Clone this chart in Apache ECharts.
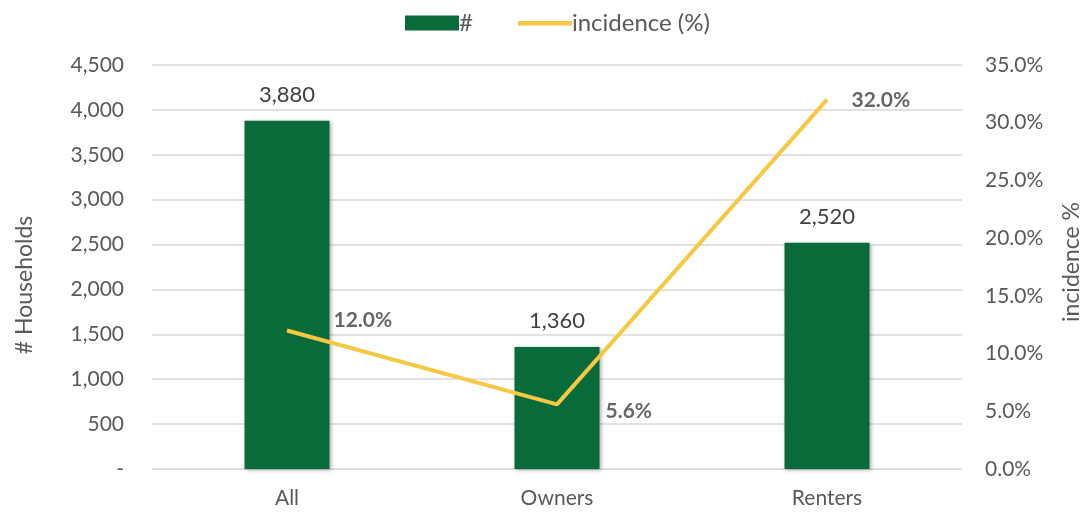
<!DOCTYPE html>
<html>
<head>
<meta charset="utf-8">
<script src="https://cdn.jsdelivr.net/npm/echarts@6/dist/echarts.min.js"></script>
<style>
  html, body { margin: 0; padding: 0; background: #fff; }
  #chart { width: 1082px; height: 514px; }
</style>
</head>
<body>
<div id="chart"></div>
<script>
var categories = ['All', 'Owners', 'Renters'];
var households = [3880, 1360, 2520];
var incidence = [12.0, 5.6, 32.0];
var leftTicks = { min: 0, max: 4500, interval: 500 };
var rightTicks = { min: 0, max: 35, interval: 5 };

var chart = echarts.init(document.getElementById('chart'));
var font = 'Lato, "Open Sans", sans-serif';

// the % labels sit at different spots in the original, so offset each one
var lineLabelOffsets = [[46, -10], [48, 7], [24, 1]];

// thin bar for the line legend (extra moveTo points keep the box 15 high)
var lineIcon = 'path://M0,0 M0,15 M0,5.5 L55,5.5 L55,10 L0,10 Z';

var option = {
    animation: false,
    textStyle: { fontFamily: font },
    legend: {
        top: 6,
        left: 400,
        itemGap: 45,
        itemWidth: 54,
        itemHeight: 15,
        textStyle: { fontSize: 24, color: '#595959', fontFamily: font, padding: [0, 0, 0, -5] },
        data: [
            { name: '#', icon: 'rect' },
            { name: 'incidence (%)', icon: lineIcon, itemStyle: { color: '#f6c843' } }
        ]
    },
    grid: { left: 152, right: 120, top: 65, bottom: 45, outerBoundsMode: 'none' },
    xAxis: {
        type: 'category',
        data: categories,
        axisLine: { lineStyle: { color: '#d9d9d9', width: 1 } },
        axisTick: { show: false },
        axisLabel: { fontSize: 21, color: '#595959', margin: 19 }
    },
    yAxis: [{
        type: 'value',
        min: leftTicks.min,
        max: leftTicks.max,
        interval: leftTicks.interval,
        name: '# Households',
        nameLocation: 'middle',
        nameGap: 116,
        nameTextStyle: { fontSize: 23, color: '#595959', padding: [0, 0, 0, -36] },
        axisLine: { show: false },
        axisTick: { show: false },
        splitLine: { lineStyle: { color: '#d9d9d9', width: 1.5 } },
        axisLabel: {
            fontSize: 21, color: '#595959', margin: 28,
            formatter: function (v) { return v === 0 ? '-' : v.toLocaleString('en-US'); }
        }
    }, {
        type: 'value',
        min: rightTicks.min,
        max: rightTicks.max,
        interval: rightTicks.interval,
        name: 'incidence %',
        nameLocation: 'middle',
        nameGap: 98,
        nameTextStyle: { fontSize: 23, color: '#595959', padding: [0, 0, 0, 10] },
        axisLine: { show: false },
        axisTick: { show: false },
        splitLine: { show: false },
        axisLabel: {
            fontSize: 21, color: '#595959', margin: 23,
            formatter: function (v) { return v.toFixed(1) + '%'; }
        }
    }],
    series: [{
        name: '#',
        type: 'bar',
        yAxisIndex: 0,
        data: households,
        barWidth: 85,
        itemStyle: {
            color: '#0a6b3a',
            shadowBlur: 4,
            shadowColor: 'rgba(0,0,0,0.35)',
            shadowOffsetX: 1,
            shadowOffsetY: 1
        },
        label: {
            show: true,
            position: 'top',
            distance: 15,
            fontSize: 22,
            color: '#404040',
            formatter: function (p) { return p.value.toLocaleString('en-US'); }
        }
    }, {
        name: 'incidence (%)',
        type: 'line',
        yAxisIndex: 1,
        data: incidence,
        symbol: 'none',
        lineStyle: { color: '#f6c843', width: 4 },
        itemStyle: { color: '#f6c843' },
        z: 5
    }, {
        // invisible points only to carry the bold % labels
        name: 'incidence labels',
        type: 'scatter',
        yAxisIndex: 1,
        data: incidence.map(function (v, i) {
            return { value: v, label: { offset: lineLabelOffsets[i] } };
        }),
        symbolSize: 1,
        itemStyle: { color: 'rgba(0,0,0,0)' },
        label: {
            show: true,
            position: 'right',
            distance: 0,
            fontSize: 21,
            fontWeight: 'bold',
            color: '#404040',
            formatter: function (p) { return p.value.toFixed(1) + '%'; }
        },
        z: 6
    }]
};

chart.setOption(option);
</script>
</body>
</html>
